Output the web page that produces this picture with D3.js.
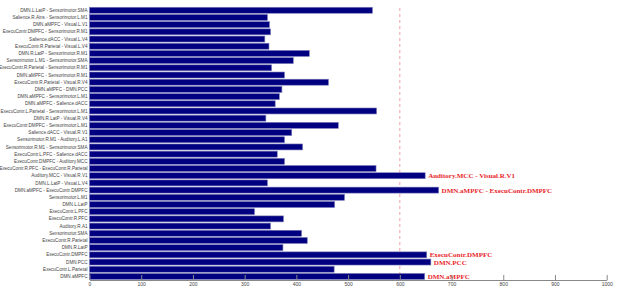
<!DOCTYPE html>
<html>
<head>
<meta charset="utf-8">
<script src="https://cdn.jsdelivr.net/npm/d3@7"></script>
<style>
    body { margin: 0; background: #fff; }
    svg { display: block; }
</style>
</head>
<body>
<div id="chart"></div>
<script>
// Connection / region labels, top to bottom
const labels = [
    'DMN.L.LatP - Sensorimotor.SMA',
    'Salience.R.Ains - Sensorimotor.L.M1',
    'DMN.aMPFC - Visual.L.V1',
    'ExecuContr.DMPFC - Sensorimotor.R.M1',
    'Salience.dACC - Visual.L.V4',
    'ExecuContr.R.Parietal - Visual.L.V4',
    'DMN.R.LatP - Sensorimotor.R.M1',
    'Sensorimotor.L.M1 - Sensorimotor.SMA',
    'ExecuContr.R.Parietal - Sensorimotor.R.M1',
    'DMN.aMPFC - Sensorimotor.R.M1',
    'ExecuContr.R.Parietal - Visual.R.V4',
    'DMN.aMPFC - DMN.PCC',
    'DMN.aMPFC - Sensorimotor.L.M1',
    'DMN.aMPFC - Salience.dACC',
    'ExecuContr.L.Parietal - Sensorimotor.L.M1',
    'DMN.R.LatP - Visual.R.V4',
    'ExecuContr.DMPFC - Sensorimotor.L.M1',
    'Salience.dACC - Visual.R.V1',
    'Sensorimotor.R.M1 - Auditory.L.A1',
    'Sensorimotor.R.M1 - Sensorimotor.SMA',
    'ExecuContr.L.PFC - Salience.dACC',
    'ExecuContr.DMPFC - Auditory.MCC',
    'ExecuContr.R.PFC - ExecuContr.R.Parietal',
    'Auditory.MCC - Visual.R.V1',
    'DMN.L.LatP - Visual.L.V4',
    'DMN.aMPFC - ExecuContr.DMPFC',
    'Sensorimotor.L.M1',
    'DMN.L.LatP',
    'ExecuContr.L.PFC',
    'ExecuContr.R.PFC',
    'Auditory.R.A1',
    'Sensorimotor.SMA',
    'ExecuContr.R.Parietal',
    'DMN.R.LatP',
    'ExecuContr.DMPFC',
    'DMN.PCC',
    'ExecuContr.L.Parietal',
    'DMN.aMPFC'
];

const values = [
    547, 344, 348, 350, 339, 347, 425, 394, 352, 377,
    462, 372, 367, 359, 555, 341, 481, 391, 377, 412,
    363, 377, 554, 649, 344, 675, 493, 474, 319, 375,
    350, 410, 421, 374, 652, 660, 473, 648
];

const xTicks = [0, 100, 200, 300, 400, 500, 600, 700, 800, 900, 1000];
const threshold = 600;

// Bars above the threshold get a red annotation
const highlights = [
    'Auditory.MCC - Visual.R.V1',
    'DMN.aMPFC - ExecuContr.DMPFC',
    'ExecuContr.DMPFC',
    'DMN.PCC',
    'DMN.aMPFC'
];

const data = labels.map((d, i) => ({ label: d, value: values[i] }));

const width = 617, height = 290;
const margin = { top: 6.7, left: 89.5 };
const axisY = 280;

const svg = d3.select('#chart')
    .append('svg')
    .attr('width', width)
    .attr('height', height);

const x = d3.scaleLinear()
    .domain([0, 1000])
    .range([margin.left, 606.7]);

const y = d3.scaleBand()
    .domain(labels)
    .range([margin.top, axisY])
    .paddingInner(0.17)
    .paddingOuter(0.08);

// Threshold line
svg.append('line')
    .attr('x1', x(threshold))
    .attr('x2', x(threshold))
    .attr('y1', 8)
    .attr('y2', axisY)
    .attr('stroke', '#f2a0a4')
    .attr('stroke-width', 1)
    .attr('stroke-dasharray', '3,3');

// Bars
svg.selectAll('.bar')
    .data(data)
    .enter()
    .append('rect')
    .attr('class', 'bar')
    .attr('x', x(0))
    .attr('y', d => y(d.label))
    .attr('width', d => x(d.value) - x(0))
    .attr('height', y.bandwidth())
    .attr('fill', '#000080')
    .attr('stroke', '#7b7bb8')
    .attr('stroke-width', 0.6);

// Category labels
svg.selectAll('.cat')
    .data(data)
    .enter()
    .append('text')
    .attr('class', 'cat')
    .attr('x', x(0) - 2)
    .attr('y', d => y(d.label) + y.bandwidth() / 2)
    .attr('dy', '0.35em')
    .attr('text-anchor', 'end')
    .style('font-family', 'Arial, "Liberation Sans", sans-serif')
    .style('font-size', '4.6px')
    .style('fill', '#444')
    .text(d => d.label);

// Red annotations
svg.selectAll('.note')
    .data(data.filter(d => highlights.includes(d.label)))
    .enter()
    .append('text')
    .attr('class', 'note')
    .attr('x', d => x(d.value) + 3)
    .attr('y', d => y(d.label) + y.bandwidth() / 2)
    .attr('dy', '0.36em')
    .style('font-family', '"Liberation Serif", "Times New Roman", serif')
    .style('font-weight', 'bold')
    .style('font-size', '7px')
    .style('fill', '#e8262a')
    .text(d => d.label);

// X axis (ticks point up into the plot)
const axis = svg.append('g')
    .attr('transform', `translate(0,${axisY})`)
    .call(d3.axisBottom(x)
        .tickValues(xTicks)
        .tickFormat(d3.format('d'))
        .tickSize(-5)
        .tickPadding(2)
        .tickSizeOuter(0));

axis.select('.domain').attr('stroke', '#888');
axis.selectAll('.tick line').attr('stroke', '#888');
axis.selectAll('text')
    .style('font-family', 'Arial, "Liberation Sans", sans-serif')
    .style('font-size', '5px')
    .style('fill', '#444');
</script>
</body>
</html>
